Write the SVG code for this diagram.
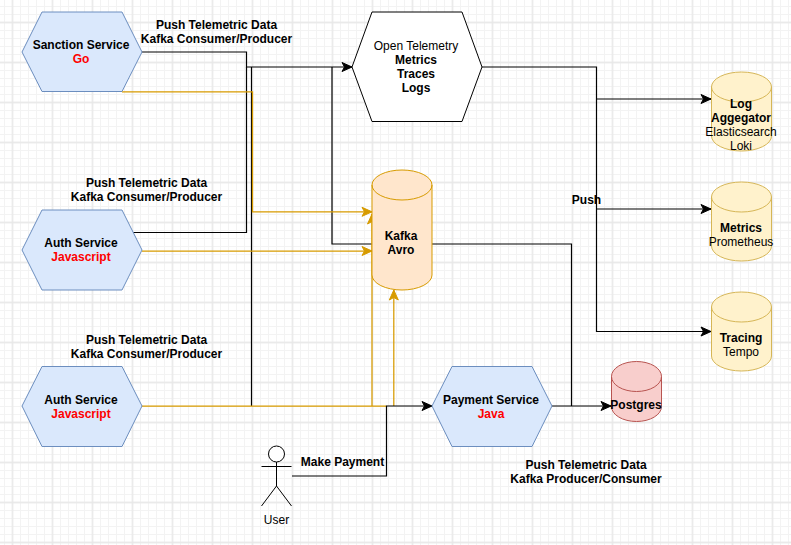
<svg xmlns="http://www.w3.org/2000/svg" width="791" height="545" viewBox="0 0 791 545">
<defs>
<pattern id="minor" x="12" y="22" width="8" height="8" patternUnits="userSpaceOnUse"><path d="M0,0.5H8M0.5,0V8" fill="none" stroke="#f3f3f3" stroke-width="1"/></pattern>
<pattern id="major" x="11.500" y="21.500" width="40" height="40" patternUnits="userSpaceOnUse"><path d="M0,1H40M1,0V40" fill="none" stroke="#e8e8e8" stroke-width="1.400"/></pattern>
<marker id="ab" markerUnits="userSpaceOnUse" markerWidth="12" markerHeight="12" refX="11" refY="6" orient="auto"><path d="M1,1.5L11,6L1,10.500L3.500,6Z" fill="#000" stroke="#000" stroke-width="1"/></marker>
<marker id="ao" markerUnits="userSpaceOnUse" markerWidth="12" markerHeight="12" refX="11" refY="6" orient="auto"><path d="M1,1.5L11,6L1,10.500L3.500,6Z" fill="#d79b00" stroke="#d79b00" stroke-width="1"/></marker>
</defs>
<style>
text{font-family:"Liberation Sans",Arial,sans-serif;font-size:12px;fill:#000;text-anchor:middle}
.b{font-weight:bold}
.r{font-weight:bold;fill:#ff0000}
.hex{fill:#dae8fc;stroke:#6c8ebf;stroke-width:1}
.k{fill:none;stroke:#000;stroke-width:1.200}
.o{fill:none;stroke:#d79b00;stroke-width:1.250}
.y{fill:#fff2cc;stroke:#d6b656;stroke-width:1}
.p{fill:#f8cecc;stroke:#b85450;stroke-width:1}
.a{fill:#ffe6cc;stroke:#d79b00;stroke-width:1}
</style>
<rect width="791" height="545" fill="#fff"/>
<rect width="791" height="545" fill="url(#minor)"/>
<rect width="791" height="545" fill="url(#major)"/>

<g id="connectors">
<path class="k" d="M142,52H246.500V67H352" marker-end="url(#ab)"/>
<path class="k" d="M132,232.500H246.500V67"/>
<path class="k" d="M251.500,406V67"/>
<path class="k" d="M372,244H332V67"/>
<path class="k" d="M432,244H571.500V406"/>
<path class="k" d="M552,406H611" marker-end="url(#ab)"/>
<path class="k" d="M482,67H596.500V331.500H711" marker-end="url(#ab)"/>
<path class="k" d="M596.500,99H711" marker-end="url(#ab)"/>
<path class="k" d="M596.500,209H711" marker-end="url(#ab)"/>
<path class="o" d="M122,91.800H252.500V211.800H372" marker-end="url(#ao)"/>
<path class="o" d="M142,251H372" marker-end="url(#ao)"/>
<path class="o" d="M142,406H386.500M372,406V214" marker-end="url(#ao)"/>
<path class="o" d="M393.800,406V290" marker-end="url(#ao)"/>
<path class="k" d="M292,476H386.500V406H432" marker-end="url(#ab)"/>
</g>

<g id="sanction-service">
<polygon class="hex" points="22,52 42,12 122,12 142,52 122,91.500 42,91.500"/>
<text class="b" x="81" y="49">Sanction Service</text>
<text class="r" x="81" y="63">Go</text>
</g>
<g id="auth-service-1">
<polygon class="hex" points="22,250 42,210 122,210 142,250 122,290 42,290"/>
<text class="b" x="81" y="247">Auth Service</text>
<text class="r" x="81" y="261">Javascript</text>
</g>
<g id="auth-service-2">
<polygon class="hex" points="22,406 42,366.500 122,366.500 142,406 122,446.500 42,446.500"/>
<text class="b" x="81" y="403.500">Auth Service</text>
<text class="r" x="81" y="417.500">Javascript</text>
</g>
<g id="payment-service">
<polygon class="hex" points="432,406 452,366.500 532,366.500 552,406 532,446.500 452,446.500"/>
<text class="b" x="491" y="403.500">Payment Service</text>
<text class="r" x="491" y="417.500">Java</text>
</g>
<g id="open-telemetry">
<polygon points="352,67 372,12 462,12 482,67 462,121.500 372,121.500" fill="#fff" stroke="#000" stroke-width="1"/>
<text x="416" y="50">Open Telemetry</text>
<text class="b" x="416" y="64">Metrics</text>
<text class="b" x="416" y="78">Traces</text>
<text class="b" x="416" y="92">Logs</text>
</g>
<g id="kafka">
<path class="a" d="M372,185A30,15 0 0 1 432,185V275A30,15 0 0 1 372,275Z"/>
<path class="a" style="fill:none" d="M372,185A30,15 0 0 0 432,185"/>
<text class="b" x="401" y="240">Kafka</text>
<text class="b" x="401" y="254">Avro</text>
</g>
<g id="log-aggregator">
<path class="y" d="M711.500,87A30,15 0 0 1 771.500,87V136A30,15 0 0 1 711.500,136Z"/>
<path class="y" style="fill:none" d="M711.500,87A30,15 0 0 0 771.500,87"/>
<text class="b" x="741" y="108">Log</text>
<text class="b" x="741" y="122">Aggegator</text>
<text x="741" y="136">Elasticsearch</text>
<text x="741" y="150">Loki</text>
</g>
<g id="metrics">
<path class="y" d="M711.500,197A30,15 0 0 1 771.500,197V246A30,15 0 0 1 711.500,246Z"/>
<path class="y" style="fill:none" d="M711.500,197A30,15 0 0 0 771.500,197"/>
<text class="b" x="741" y="232">Metrics</text>
<text x="741" y="246">Prometheus</text>
</g>
<g id="tracing">
<path class="y" d="M711.500,307A30,15 0 0 1 771.500,307V356A30,15 0 0 1 711.500,356Z"/>
<path class="y" style="fill:none" d="M711.500,307A30,15 0 0 0 771.500,307"/>
<text class="b" x="741" y="342">Tracing</text>
<text x="741" y="356">Tempo</text>
</g>
<g id="postgres">
<path class="p" d="M611.500,376.500A25,15 0 0 1 661.500,376.500V406.500A25,15 0 0 1 611.500,406.500Z"/>
<path class="p" style="fill:none" d="M611.500,376.500A25,15 0 0 0 661.500,376.500"/>
<text class="b" x="636" y="409">Postgres</text>
</g>
<g id="user">
<circle cx="276.500" cy="454" r="8" fill="#fff" stroke="#000" stroke-width="1"/>
<path d="M276.500,462V486M261.500,466.500H291.500M261.500,506L276.500,486L291.500,506" fill="none" stroke="#000" stroke-width="1"/>
<text x="276.500" y="524">User</text>
</g>

<g id="labels">
<text class="b" x="216.500" y="29">Push Telemetric Data</text>
<text class="b" x="216.500" y="43">Kafka Consumer/Producer</text>
<text class="b" x="146.500" y="187">Push Telemetric Data</text>
<text class="b" x="146.500" y="201">Kafka Consumer/Producer</text>
<text class="b" x="146.500" y="343.500">Push Telemetric Data</text>
<text class="b" x="146.500" y="357.500">Kafka Consumer/Producer</text>
<text class="b" x="586" y="468.500">Push Telemetric Data</text>
<text class="b" x="586" y="482.500">Kafka Producer/Consumer</text>
<text class="b" x="586.500" y="203.500">Push</text>
<text class="b" x="342.500" y="465.500">Make Payment</text>
</g>
</svg>
